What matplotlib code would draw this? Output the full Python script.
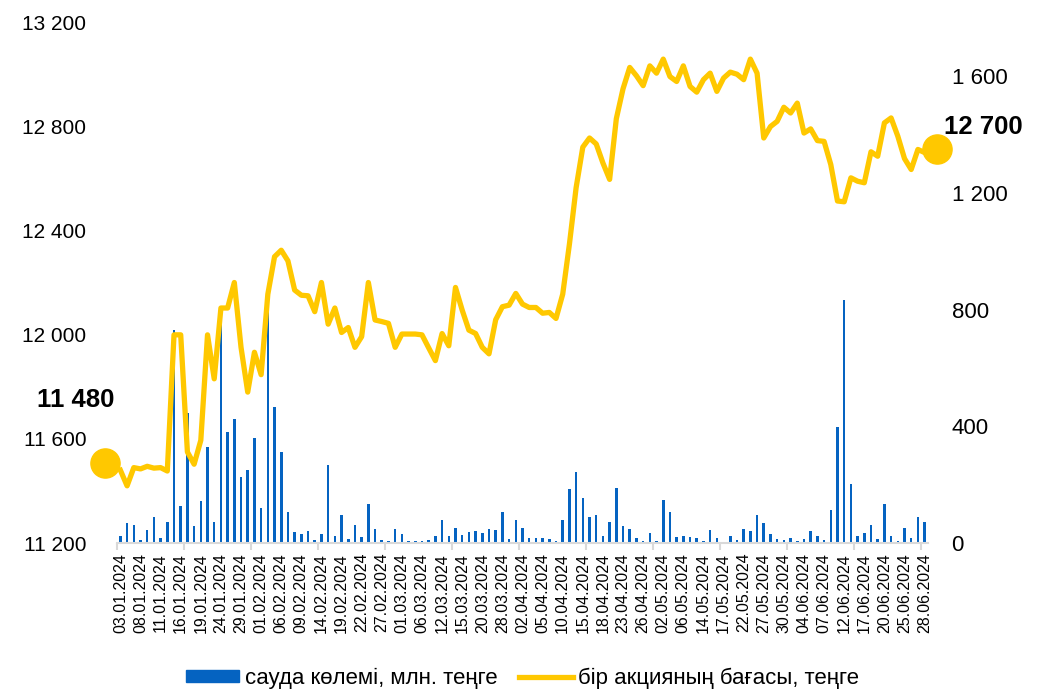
import numpy as np
import matplotlib.pyplot as plt
from matplotlib import transforms
from matplotlib.patches import Patch
from matplotlib.lines import Line2D

plt.rcParams['font.family'] = ['Liberation Sans', 'DejaVu Sans']

# every 3rd trading day is labelled on the x axis
tick_labels = ["03.01.2024", "08.01.2024", "11.01.2024", "16.01.2024", "19.01.2024",
               "24.01.2024", "29.01.2024", "01.02.2024", "06.02.2024", "09.02.2024",
               "14.02.2024", "19.02.2024", "22.02.2024", "27.02.2024", "01.03.2024",
               "06.03.2024", "12.03.2024", "15.03.2024", "20.03.2024", "28.03.2024",
               "02.04.2024", "05.04.2024", "10.04.2024", "15.04.2024", "18.04.2024",
               "23.04.2024", "26.04.2024", "02.05.2024", "06.05.2024", "14.05.2024",
               "17.05.2024", "22.05.2024", "27.05.2024", "30.05.2024", "04.06.2024",
               "07.06.2024", "12.06.2024", "17.06.2024", "20.06.2024", "25.06.2024",
               "28.06.2024"]

# share price, tenge (left axis)
price = [11480, 11420, 11490, 11485, 11495, 11488, 11490, 11477, 12000, 12000,
         11550, 11503, 11595, 12000, 11831, 12103, 12103, 12201, 11952, 11780,
         11933, 11847, 12156, 12300, 12325, 12284, 12172, 12152, 12150, 12089,
         12201, 12041, 12103, 12009, 12028, 11952, 11993, 12201, 12057, 12051,
         12044, 11952, 12003, 12003, 12003, 12000, 11950, 11901, 12005, 11958,
         12182, 12095, 12018, 12005, 11952, 11927, 12058, 12108, 12114, 12159,
         12118, 12105, 12105, 12083, 12086, 12063, 12156, 12348, 12565, 12721,
         12756, 12733, 12660, 12597, 12830, 12945, 13027, 12995, 12957, 13033,
         13005, 13059, 12992, 12973, 13033, 12954, 12932, 12980, 13005, 12935,
         12986, 13009, 13001, 12980, 13059, 13005, 12756, 12800, 12820, 12874,
         12852, 12890, 12775, 12791, 12746, 12743, 12654, 12514, 12511, 12603,
         12590, 12584, 12703, 12686, 12814, 12833, 12763, 12677, 12635, 12712,
         12700]

# trading volume, mln tenge (right axis)
volume = [23, 68, 63, 11, 46, 89, 17, 71, 729, 128,
          447, 59, 143, 331, 73, 805, 382, 424, 226, 249,
          359, 120, 840, 465, 312, 105, 37, 32, 42, 11,
          32, 267, 25, 97, 15, 62, 22, 134, 48, 11,
          9, 48, 30, 9, 9, 9, 11, 23, 80, 23,
          51, 27, 39, 42, 34, 50, 44, 106, 14, 80,
          51, 19, 16, 19, 15, 6, 78, 185, 245, 154,
          91, 95, 23, 74, 188, 59, 49, 19, 8, 34,
          8, 148, 105, 22, 25, 22, 19, 8, 44, 19,
          5, 23, 10, 48, 42, 96, 68, 30, 15, 11,
          16, 6, 14, 43, 26, 11, 112, 397, 833, 201,
          23, 34, 63, 14, 135, 23, 9, 52, 16, 89,
          74]

blue = '#0563C1'
gold = '#FFC800'

x = np.arange(len(price))

fig = plt.figure(figsize=(10.45, 6.91), dpi=100)
ax = fig.add_axes([0.112, 0.214, 0.776, 0.7536])
ax2 = ax.twinx()

# bars first so the line sits on top of them
ax.bar(x, volume, width=0.38, color=blue, zorder=2)
ax.set_ylim(0, 1785)
ax.set_yticks([0, 400, 800, 1200, 1600])
ax.set_yticklabels([f"{v:,}".replace(",", " ") for v in [0, 400, 800, 1200, 1600]])
ax.yaxis.tick_right()
ax.tick_params(axis='y', length=0, pad=17, labelsize=16, labelcolor='black')

ax2.plot(x, price, color=gold, lw=3.8, solid_joinstyle='round', zorder=3)
ax2.set_ylim(11200, 13200)
yt = np.arange(11200, 13201, 400)
ax2.set_yticks(yt)
ax2.set_yticklabels([f"{v:,}".replace(",", " ") for v in yt])
ax2.yaxis.tick_left()
ax2.tick_params(axis='y', length=0, pad=22, labelsize=15, labelcolor='black')

# end markers and their value labels
off_l = transforms.offset_copy(ax2.transData, fig=fig, x=-15, y=7, units='dots')
off_r = transforms.offset_copy(ax2.transData, fig=fig, x=12, y=4, units='dots')
ax2.plot([x[0]], [price[0]], 'o', ms=21, color=gold, transform=off_l, clip_on=False, zorder=4)
ax2.plot([x[-1]], [price[-1]], 'o', ms=21, color=gold, transform=off_r, clip_on=False, zorder=4)
ax2.annotate(f"{price[0]:,}".replace(",", " "), (x[0], price[0]), xytext=(-45, 70),
             textcoords='offset pixels', ha='center', va='center',
             fontsize=18.5, fontweight='bold', annotation_clip=False)
ax2.annotate(f"{price[-1]:,}".replace(",", " "), (x[-1], price[-1]), xytext=(59, 26),
             textcoords='offset pixels', ha='center', va='center',
             fontsize=18.5, fontweight='bold', annotation_clip=False)

ax.set_xlim(-0.5, len(price) - 0.5)
ax.set_xticks(x[::3])
ax.set_xticklabels(tick_labels, rotation=90, fontsize=11.5)
ax.tick_params(axis='x', length=0, pad=7)
ax.set_xticks(np.arange(-0.5, len(price), 10), minor=True)
ax.tick_params(axis='x', which='minor', length=5, width=1.5, color='#D9D9D9')

for a in (ax, ax2):
    for s in ('top', 'left', 'right'):
        a.spines[s].set_visible(False)
    a.spines['bottom'].set_color('#D9D9D9')
    a.spines['bottom'].set_linewidth(1.5)
ax2.spines['bottom'].set_visible(False)

handles = [Patch(color=blue), Line2D([], [], color=gold, lw=3.8)]
fig.legend(handles, ["сауда көлемі, млн. теңге", "бір акцияның бағасы, теңге"],
           loc='lower center', bbox_to_anchor=(0.5, -0.026), ncol=2, frameon=False,
           fontsize=16, handlelength=2.4, handleheight=0.45, columnspacing=1.0,
           handletextpad=0.25)

fig.savefig('out.png', dpi=100)
